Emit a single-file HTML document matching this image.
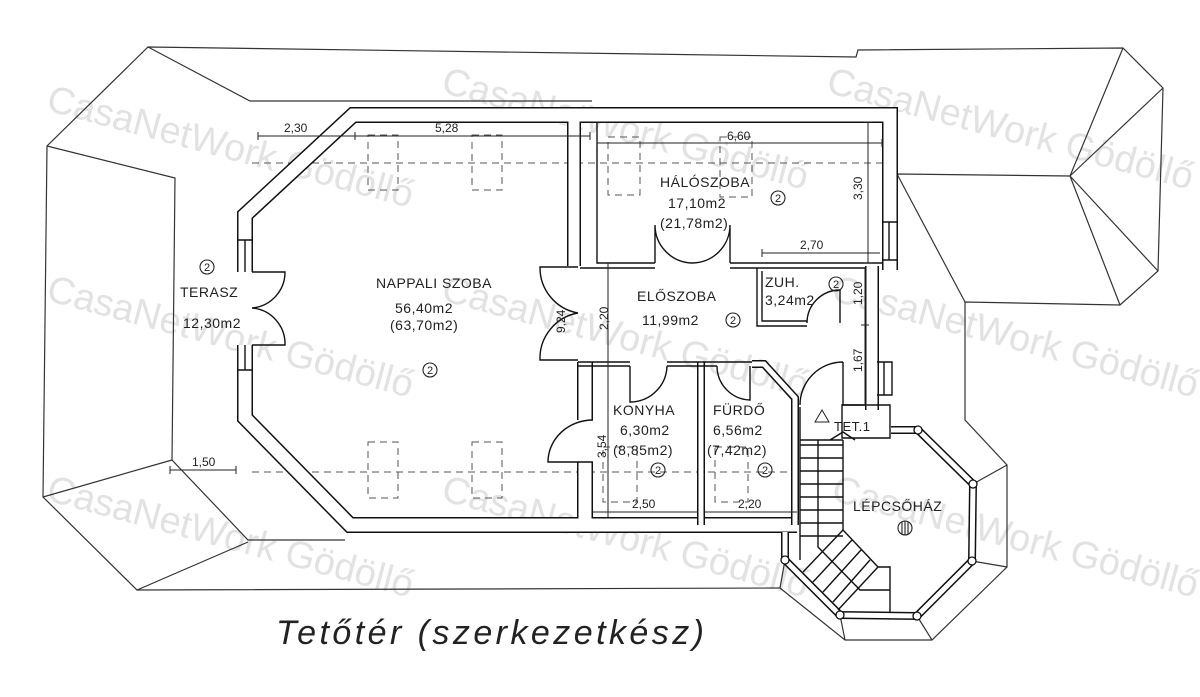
<!DOCTYPE html>
<html><head><meta charset="utf-8"><style>
html,body{margin:0;padding:0;background:#fff}
svg{display:block}
text{font-family:"Liberation Sans",sans-serif;fill:#222}
.l{font-size:14px;letter-spacing:0.5px}
.d{font-size:12px}
.wm{font-size:38px;fill:#e2e2e2;font-family:"Liberation Sans",sans-serif}
</style></head><body>
<svg width="1200" height="697" viewBox="0 0 1200 697" xmlns="http://www.w3.org/2000/svg">
<rect width="1200" height="697" fill="#fff"/>
<!-- watermarks -->
<g>
<text class="wm" transform="translate(45,110) rotate(15)">CasaNetWork Gödöllő</text>
<text class="wm" transform="translate(440,92) rotate(15)">CasaNetWork Gödöllő</text>
<text class="wm" transform="translate(825,92) rotate(15)">CasaNetWork Gödöllő</text>
<text class="wm" transform="translate(45,300) rotate(15)">CasaNetWork Gödöllő</text>
<text class="wm" transform="translate(440,300) rotate(15)">CasaNetWork Gödöllő</text>
<text class="wm" transform="translate(830,300) rotate(15)">CasaNetWork Gödöllő</text>
<text class="wm" transform="translate(45,500) rotate(15)">CasaNetWork Gödöllő</text>
<text class="wm" transform="translate(440,500) rotate(15)">CasaNetWork Gödöllő</text>
<text class="wm" transform="translate(830,500) rotate(15)">CasaNetWork Gödöllő</text>
</g>
<!-- roof -->
<g fill="none" stroke="#333" stroke-width="1.2">
<path d="M148,47 L856,57 L858,50 L1123,48 L1163,88 L1158,271 L1120,305 L965,302 L965,420 L1007,465 L1007,567 L932,640 L845,640 L780,588 L137,590 L43,497 L47,146 Z"/>
<path d="M148,47 L250,101 L592,101"/>
<path d="M47,146 L175,178 L172,460 L248,540 L345,540"/>
<path d="M43,497 L172,460"/>
<path d="M137,590 L248,542"/>
<path d="M897,174 L1070,176 L1123,48 M1070,176 L1163,88 M1070,176 L1158,271 M1070,176 L1120,305 M897,174 L965,302"/>
<path d="M973,484 L1007,465 M972,561 L1007,567 M917,616 L932,640 M840,615 L845,640 M785,560 L780,588"/>
</g>
<!-- dashed -->
<g fill="none" stroke="#555" stroke-width="1" stroke-dasharray="7,5">
<path d="M252,163 L882,163 M252,472 L800,472"/>
<rect x="368" y="135" width="30" height="55"/><rect x="472" y="135" width="30" height="55"/>
<rect x="368" y="442" width="30" height="56"/><rect x="472" y="442" width="30" height="56"/>
<rect x="608" y="137" width="32" height="58"/><rect x="720" y="137" width="32" height="60"/>
<rect x="603" y="447" width="34" height="55"/><rect x="715" y="447" width="33" height="55"/>
</g>
<!-- walls: black then white core -->
<g fill="none" stroke-linejoin="miter">
<g stroke="#111" stroke-width="16">
<path d="M245,272 L245,215 L353,115 L890,115 L890,270"/>
<path d="M245,345 L245,418 L350,525 L797,525"/>
<path d="M585,362 L585,420 M585,462 L585,525"/>
</g>
<g stroke="#111" stroke-width="14">
<path d="M574,115 L574,266"/>
<path d="M872,266 L872,410"/>
</g>
<g stroke="#fff" stroke-width="13">
<path d="M245,272 L245,215 L353,115 L890,115 L890,270"/>
<path d="M245,345 L245,418 L350,525 L797,525"/>
<path d="M585,362 L585,420 M585,462 L585,525"/>
</g>
<g stroke="#fff" stroke-width="11">
<path d="M574,115 L574,266"/>
<path d="M872,266 L872,410"/>
</g>
<g stroke="#111" stroke-width="8">
<path d="M701,362 L701,525"/>
<path d="M752,364 L764,364 L795,398 L795,525"/>
<path d="M891,430 L918,430 L973,484 L972,561 L917,616 L840,615 L785,560 L785,532"/>
</g>
<g stroke="#fff" stroke-width="5">
<path d="M701,362 L701,525"/>
<path d="M752,364 L764,364 L795,398 L795,525"/>
<path d="M891,430 L918,430 L973,484 L972,561 L917,616 L840,615 L785,560 L785,532"/>
</g>
</g>
<g fill="#fff" stroke="#111" stroke-width="1.3">
<circle cx="918" cy="430" r="4"/><circle cx="973" cy="484" r="4"/><circle cx="972" cy="561" r="4"/>
<circle cx="917" cy="616" r="4"/><circle cx="840" cy="615" r="4"/><circle cx="785" cy="560" r="4"/>
</g>
<!-- thin walls / lines -->
<g fill="none" stroke="#111" stroke-width="1.4">
<path d="M597,122 L597,263 L655,263 M730,263 L882,263"/>
<path d="M580,268 L655,268 M730,268 L865,268"/>
<path d="M578,362 L630,362 M578,366 L630,366 M667,362 L705,362 M667,366 L705,366 M705,362 L752,362 M705,366 L717,366"/>
<path d="M757,268 L757,326 L807,326 M762,271 L762,321 L807,321"/>
<path d="M842,405 L842,438 L890,438 L890,405 Z"/>
<path d="M842,405 L865,405"/>
<!-- windows -->
<path d="M238,240 L252,240 M245,240 L245,272 M238,370 L252,370 M245,345 L245,370"/>
<path d="M882,222 L897,222 M882,260 L897,260 M889,222 L889,260"/>
<path d="M877,362 L892,362 L892,395 L877,395 M884,362 L884,395"/>
<!-- doors -->
<path d="M252,272 L285,272 A36,36 0 0 1 252,308 M252,345 L285,345 A36,36 0 0 0 252,308"/>
<path d="M578,267 L540,267 A46,46 0 0 0 578,313 M578,360 L540,360 A46,46 0 0 1 578,313"/>
<path d="M655,263 L655,225 A38,38 0 0 0 692,263 M730,263 L730,225 A38,38 0 0 1 692,263"/>
<path d="M630,366 L630,402 A37,37 0 0 0 667,366"/>
<path d="M750,366 L750,400 A34,34 0 0 1 717,366"/>
<path d="M843,362 L843,405 M843,362 A43,43 0 0 0 800,405"/>
<path d="M840,323 L840,290 A33,33 0 0 0 807,323"/>
<path d="M593,462 L548,462 A45,42 0 0 1 593,420"/>
<!-- stairs -->
<path d="M800,407 L800,560 M843,440 L843,530 L878,567 L890,567 L890,612 M818,440 L818,547 L860,590 L890,590"/>
<path d="M800,445 L843,445 M800,458 L843,458 M800,471 L843,471 M800,484 L843,484 M800,497 L843,497 M800,510 L843,510 M800,523 L843,523 M800,536 L843,536"/>
<path d="M843,530 L803,572 M852,540 L813,582 M861,550 L823,592 M870,560 L833,602 M878,567 L838,610"/>
<path d="M830,440 L843,432 L855,440 M800,440 L843,440"/>
</g>
<!-- dimension lines -->
<g fill="none" stroke="#222" stroke-width="1">
<path d="M258,136 L590,136 M258,132 L258,140 M355,132 L355,140 M590,132 L590,140"/>
<path d="M597,143 L882,143 M597,139 L597,147 M882,139 L882,147"/>
<path d="M868,122 L868,263 M864,122 L872,122 M864,263 L872,263"/>
<path d="M762,253 L880,253 M762,249 L762,257"/>
<path d="M865,268 L865,325 L865,405 M861,325 L869,325 M861,405 L869,405"/>
<path d="M608,263 L608,362 L608,517"/>
<path d="M593,512 L698,512 M705,512 L797,512"/>
<path d="M170,470 L236,470 M170,466 L170,474 M236,466 L236,474"/>
<path d="M815,422 L822,410 L829,422 Z"/>
</g>
<!-- dims text -->
<g class="d">
<text x="284" y="132" font-size="12">2,30</text>
<text x="435" y="132" font-size="12">5,28</text>
<text x="727" y="140" font-size="12">6,60</text>
<text x="800" y="249" font-size="12">2,70</text>
<text x="632" y="508" font-size="12">2,50</text>
<text x="738" y="508" font-size="12">2,20</text>
<text x="192" y="466" font-size="12">1,50</text>
<text font-size="12" transform="translate(862,200) rotate(-90)">3,30</text>
<text font-size="12" transform="translate(862,305) rotate(-90)">1,20</text>
<text font-size="12" transform="translate(862,372) rotate(-90)">1,67</text>
<text font-size="12" transform="translate(608,330) rotate(-90)">2,20</text>
<text font-size="12" transform="translate(565,333) rotate(-90)">9,24</text>
<text font-size="12" transform="translate(606,458) rotate(-90)">3,54</text>
</g>
<!-- labels -->
<g class="l">
<text x="180" y="297">TERASZ</text>
<text x="183" y="328">12,30m2</text>
<text x="376" y="288">NAPPALI SZOBA</text>
<text x="395" y="313">56,40m2</text>
<text x="390" y="330">(63,70m2)</text>
<text x="660" y="187">HÁLÓSZOBA</text>
<text x="668" y="208">17,10m2</text>
<text x="660" y="228">(21,78m2)</text>
<text x="637" y="301">ELŐSZOBA</text>
<text x="642" y="325">11,99m2</text>
<text x="765" y="287">ZUH.</text>
<text x="765" y="305">3,24m2</text>
<text x="613" y="415">KONYHA</text>
<text x="620" y="435">6,30m2</text>
<text x="613" y="455">(8,85m2)</text>
<text x="713" y="415">FÜRDŐ</text>
<text x="713" y="435">6,56m2</text>
<text x="707" y="455">(7,42m2)</text>
<text x="853" y="511">LÉPCSŐHÁZ</text>
<text x="834" y="431" font-size="13">TET.1</text>
</g>
<!-- circled 2s -->
<g fill="none" stroke="#222" stroke-width="1.1">
<circle cx="207" cy="267" r="7"/><circle cx="430" cy="370" r="7"/><circle cx="778" cy="198" r="7"/>
<circle cx="733" cy="320" r="7"/><circle cx="836" cy="284" r="7"/><circle cx="658" cy="470" r="7"/>
<circle cx="765" cy="470" r="7"/><circle cx="905" cy="528" r="7"/>
<path d="M902,522 L902,534 M905,521 L905,535 M908,522 L908,534"/>
</g>
<g font-size="11" text-anchor="middle">
<text x="207" y="271">2</text><text x="430" y="374">2</text><text x="778" y="202">2</text>
<text x="733" y="324">2</text><text x="836" y="288">2</text><text x="658" y="474">2</text><text x="765" y="474">2</text>
</g>
<!-- title -->
<text x="276" y="644" font-size="34" font-style="italic" letter-spacing="2" textLength="430" style="font-family:'Liberation Sans',sans-serif;fill:#222">Tetőtér (szerkezetkész)</text>
</svg>
</body></html>
